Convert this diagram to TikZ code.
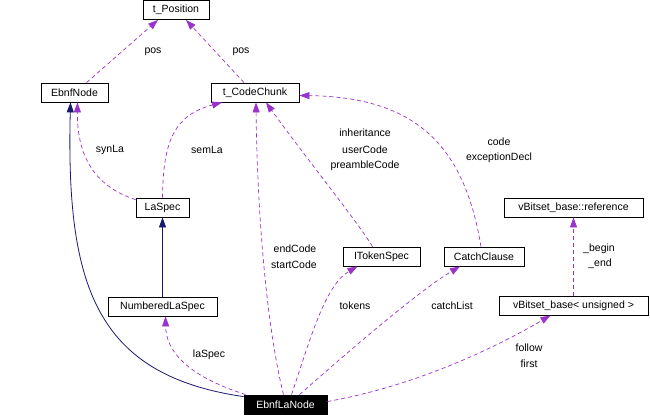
\documentclass[tikz,border=0pt]{standalone}
\usepackage{fontspec}
\setmainfont{Liberation Sans}
\usetikzlibrary{arrows.meta}
\definecolor{usecol}{HTML}{9A32CD}
\definecolor{inhcol}{HTML}{191970}
\begin{document}
\begin{tikzpicture}[x=1pt,y=-1pt,
				every node/.style={font=\fontsize{10.5}{12}\selectfont},
				cls/.style={draw,line width=0.8pt,inner sep=0pt,minimum height=19pt},
				lbl/.style={inner sep=0pt},
				uses/.style={usecol,dash pattern=on 4pt off 3pt,line width=0.7pt,-{Triangle[length=10pt,width=7pt]}},
				isa/.style={inhcol,line width=0.8pt,-{Triangle[length=10pt,width=7pt]}}
]
\useasboundingbox (0,0) rectangle (650,416);
% classes
\node[cls,minimum width=66pt] (tPosition) at (176,10) {t\_Position};
\node[cls,minimum width=67pt] (ebnfNode) at (74.5,92.5) {EbnfNode};
\node[cls,minimum width=88pt] (codeChunk) at (255,92.5) {t\_CodeChunk};
\node[cls,minimum width=53pt] (laSpec) at (162.5,207.5) {LaSpec};
\node[cls,minimum width=109pt] (numbered) at (162.5,306.5) {NumberedLaSpec};
\node[cls,minimum width=77pt] (iTokenSpec) at (381.5,256.5) {ITokenSpec};
\node[cls,minimum width=80pt] (catchClause) at (484,256.5) {CatchClause};
\node[cls,minimum width=139pt] (bitRef) at (573.5,207.5) {vBitset\_base::reference};
\node[cls,minimum width=149pt] (bitBase) at (573.5,305.5) {vBitset\_base< unsigned >};
\node[cls,minimum width=83pt,fill=black,text=white] (ebnfLaNode) at (285.5,404.5) {EbnfLaNode};
% connectors
\draw[uses] ([xshift=12pt]ebnfNode.north) -- ([xshift=-18pt]tPosition.south);
\draw[uses] ([xshift=-11pt]codeChunk.north) -- ([xshift=10pt]tPosition.south);
\draw[uses] ([yshift=-2pt]laSpec.north west) .. controls (90,185) and (77,150) .. ([xshift=3pt]ebnfNode.south);
\draw[uses] (laSpec.north) .. controls (163,140) and (175,115) .. ([xshift=-33pt]codeChunk.south);
\draw[isa] (numbered.north) -- (laSpec.south);
\draw[isa] ([yshift=-2pt]ebnfLaNode.north west) .. controls (95,375) and (66,285) .. ([xshift=-4pt]ebnfNode.south);
\draw[uses] ([xshift=2pt]ebnfLaNode.north west) .. controls (185,375) and (166,350) .. ([xshift=3pt]numbered.south);
\draw[uses] ([xshift=-2pt]ebnfLaNode.north) .. controls (265,320) and (257,200) .. ([xshift=1pt]codeChunk.south);
\draw[uses] ([xshift=-9pt]iTokenSpec.north) .. controls (360,225) and (300,150) .. ([xshift=11pt]codeChunk.south);
\draw[uses] ([xshift=-3pt]catchClause.north) .. controls (465,150) and (420,97) .. ([yshift=-3pt]codeChunk.east);
\draw[uses] ([xshift=6pt]ebnfLaNode.north) .. controls (310,340) and (325,285) .. ([xshift=-24pt]iTokenSpec.south);
\draw[uses] ([xshift=14pt]ebnfLaNode.north) .. controls (350,350) and (420,290) .. ([xshift=-24pt]catchClause.south);
\draw[uses] ([yshift=3pt]ebnfLaNode.east) .. controls (420,385) and (500,345) .. ([xshift=-23pt]bitBase.south);
\draw[uses] (bitBase.north) -- (bitRef.south);
% labels
\node[lbl] (lPos1) at (153,52) {pos};
\node[lbl] (lPos2) at (241,52) {pos};
\node[lbl] (lSynLa) at (110,150) {synLa};
\node[lbl] (lSemLa) at (207,150) {semLa};
\node[lbl] (lLaSpec) at (209,355) {laSpec};
\node[lbl] (lEndCode) at (295,249) {endCode};
\node[lbl] (lStartCode) at (294,265) {startCode};
\node[lbl] (lInher) at (365,133) {inheritance};
\node[lbl] (lUserCode) at (365,149.5) {userCode};
\node[lbl] (lPreamble) at (365,166) {preambleCode};
\node[lbl] (lCode) at (499,142) {code};
\node[lbl] (lExcept) at (499,158) {exceptionDecl};
\node[lbl] (lTokens) at (355,306) {tokens};
\node[lbl] (lCatch) at (452,306) {catchList};
\node[lbl] (lFollow) at (529,348) {follow};
\node[lbl] (lFirst) at (529,364) {first};
\node[lbl] (lBegin) at (599,249) {\_begin};
\node[lbl] (lEnd) at (600,264) {\_end};
\end{tikzpicture}
\end{document}
